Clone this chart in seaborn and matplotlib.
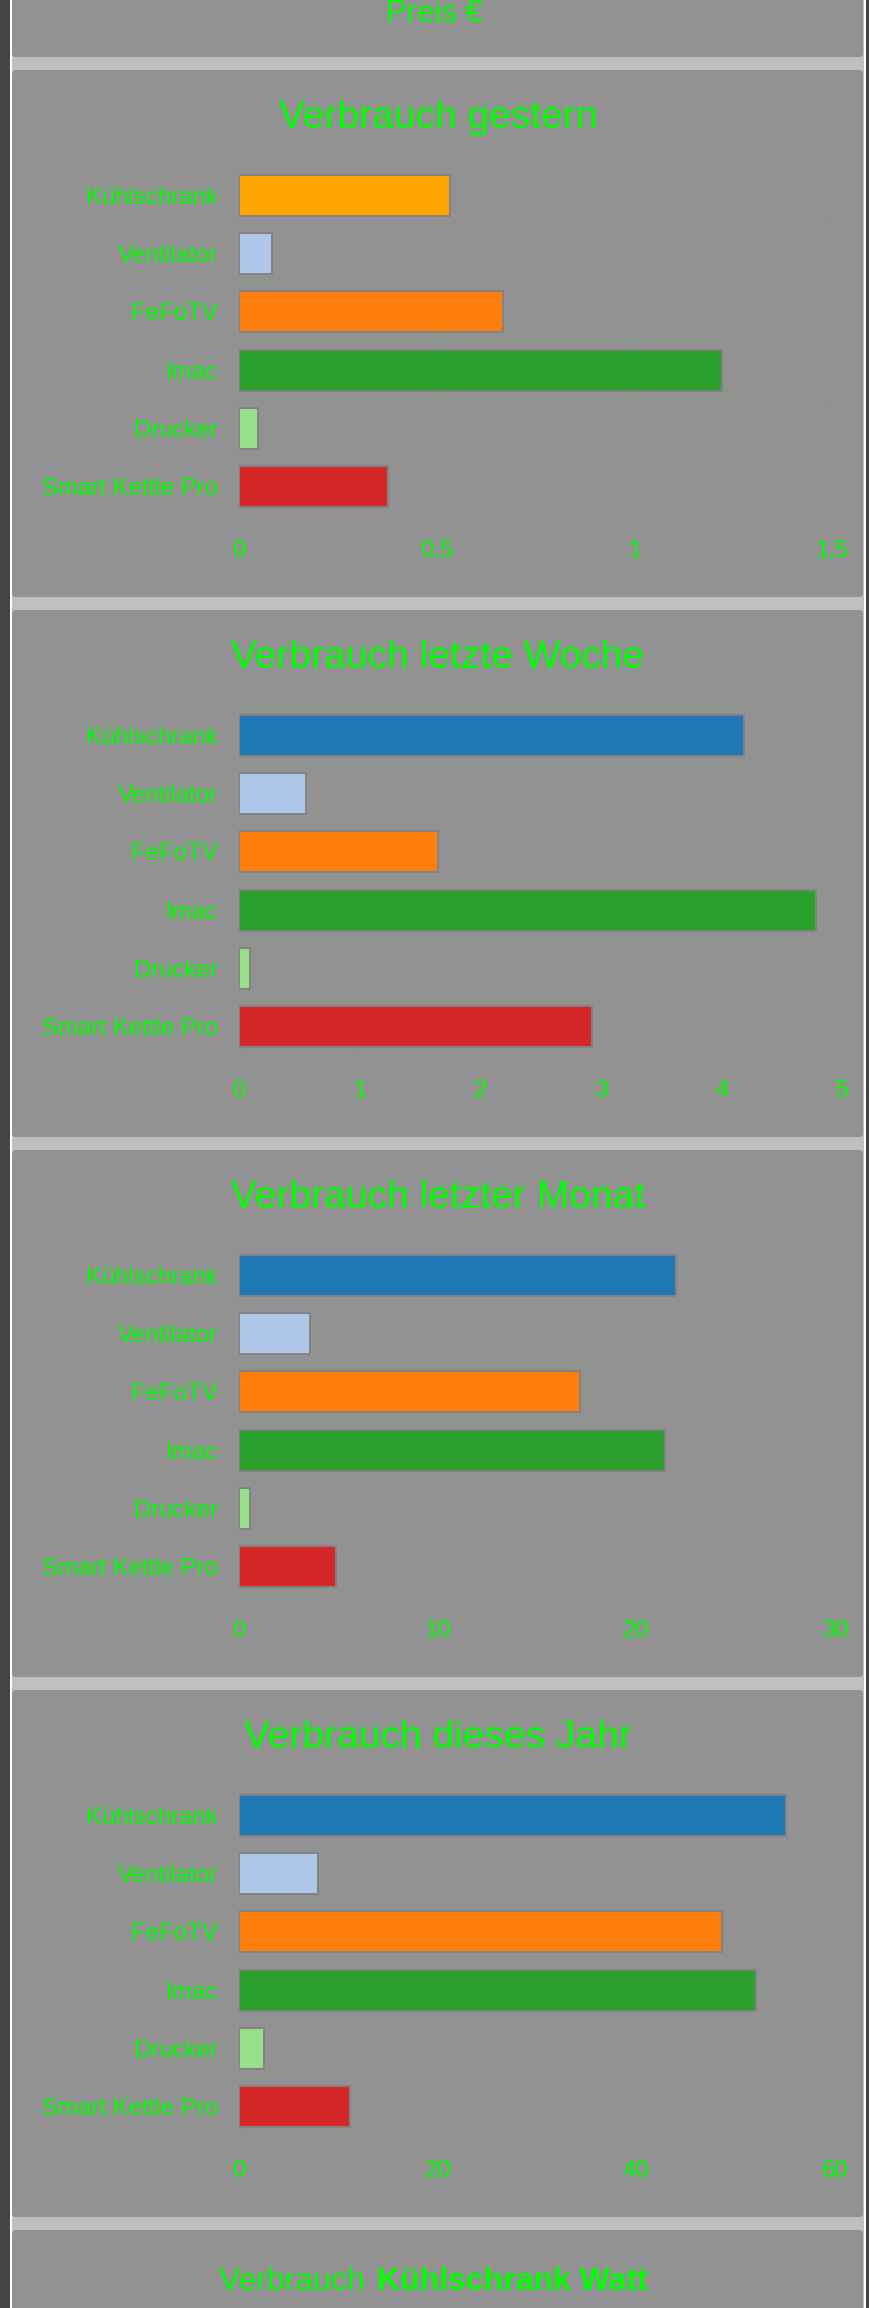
import matplotlib
matplotlib.use("Agg")
import matplotlib.pyplot as plt
from matplotlib.patches import Rectangle, FancyBboxPatch
from matplotlib.transforms import IdentityTransform
import seaborn as sns

W, H = 870, 2308
DPI = 100

# data (kWh)
categories = ["Kühlschrank", "Ventilator", "FeFoTV", "Imac", "Drucker", "Smart Kettle Pro"]
gestern = [0.533, 0.083, 0.669, 1.221, 0.048, 0.376]
woche = [4.18, 0.556, 1.644, 4.775, 0.092, 2.92]
monat = [21.98, 3.58, 17.15, 21.45, 0.56, 4.89]
jahr = [55.08, 7.93, 48.6, 52.07, 2.51, 11.17]

titles = ["Verbrauch gestern", "Verbrauch letzte Woche",
          "Verbrauch letzter Monat", "Verbrauch dieses Jahr"]

gestern_ticks = [0, 0.5, 1, 1.5]
gestern_ticklabels = ["0", "0,5", "1", "1,5"]
woche_ticks = [0, 1, 2, 3, 4, 5]
woche_ticklabels = ["0", "1", "2", "3", "4", "5"]
monat_ticks = [0, 10, 20, 30]
monat_ticklabels = ["0", "10", "20", "30"]
jahr_ticks = [0, 20, 40, 60]
jahr_ticklabels = ["0", "20", "40", "60"]

gestern_colors = ["#ffa500", "#aec7e8", "#ff7f0e", "#2ca02c", "#98df8a", "#d62728"]
default_colors = ["#1f77b4", "#aec7e8", "#ff7f0e", "#2ca02c", "#98df8a", "#d62728"]

GREEN = "#00ff00"
PANEL = "#929292"
GAP = "#bfbfbf"
DARK = "#444444"
GRID = "#879b87"

plt.rcParams["font.family"] = ["Liberation Sans", "DejaVu Sans"]


def px(v):
    # pixels -> points
    return v * 72 / DPI


def rect(fig, x0, y0, x1, y1, color, rounded=False):
    # top-down pixel coords -> display coords
    if rounded:
        p = FancyBboxPatch((x0, H - y1), x1 - x0, y1 - y0,
                           boxstyle="round,pad=0,rounding_size=4",
                           facecolor=color, edgecolor="none",
                           transform=IdentityTransform(), zorder=-5)
    else:
        p = Rectangle((x0, H - y1), x1 - x0, y1 - y0, facecolor=color,
                      edgecolor="none", transform=IdentityTransform(), zorder=-6)
    fig.add_artist(p)


fig = plt.figure(figsize=(W / DPI, H / DPI), dpi=DPI, facecolor=GAP)

# page frame
rect(fig, 0, 0, 10, H, DARK)
rect(fig, 10, 0, 12, H, "white")
rect(fig, 864, 0, 866, H, "white")
rect(fig, 866, 0, W, H, DARK)

# panels
panel_tops = [-470, 70, 610, 1150, 1690, 2230]
for t in panel_tops:
    rect(fig, 12, t, 863, t + 527, PANEL, rounded=True)

# leftover axis title of the chart above
fig.text(434 / W, 1 - 22 / H, "Preis €", color=GREEN, fontsize=px(31),
         ha="center", va="baseline")

series = [gestern, woche, monat, jahr]
ticks = [gestern_ticks, woche_ticks, monat_ticks, jahr_ticks]
ticklabels = [gestern_ticklabels, woche_ticklabels, monat_ticklabels, jahr_ticklabels]
palettes = [gestern_colors, default_colors, default_colors, default_colors]
right_edges = [832, 843, 835, 835]

x0 = 239
for i in range(4):
    T = panel_tops[i + 1]
    xr = right_edges[i]
    top, bottom = T + 96, T + 446
    ax = fig.add_axes([x0 / W, 1 - bottom / H, (xr - x0) / W, (bottom - top) / H])
    ax.set_facecolor("none")

    sns.barplot(x=series[i], y=categories, hue=categories, palette=palettes[i],
                orient="h", width=0.7, saturation=1, edgecolor="#838383",
                linewidth=1.4, legend=False, ax=ax, zorder=2)

    ax.set_xlim(ticks[i][0], ticks[i][-1])
    ax.set_ylim(5.5, -0.5)
    ax.set_xlabel("")
    ax.set_ylabel("")
    for s in ax.spines.values():
        s.set_visible(False)

    span = xr - x0
    edges = [k - 0.5 for k in range(len(categories) + 1)]
    ax.hlines(edges[:-1], (218 - x0) / span, (854 - x0) / span, color=GRID,
              linewidth=px(1.2), transform=ax.get_yaxis_transform(),
              clip_on=False, zorder=0.5)
    ax.hlines(edges[-1:], 0, (854 - x0) / span, color=GRID,
              linewidth=px(1.2), transform=ax.get_yaxis_transform(),
              clip_on=False, zorder=0.5)
    ax.vlines(ticks[i], -(T + 463 - bottom) / 350, 1 + (top - (T + 84)) / 350,
              color=GRID, linewidth=px(1.2), transform=ax.get_xaxis_transform(),
              clip_on=False, zorder=0.5)

    ax.set_xticks(ticks[i])
    ax.set_xticklabels(ticklabels[i])
    ax.set_yticks(range(len(categories)))
    ax.set_yticklabels(categories)
    ax.tick_params(axis="y", length=0, pad=px(21), labelsize=px(24), labelcolor=GREEN)
    ax.tick_params(axis="x", length=0, pad=px(24), labelsize=px(24), labelcolor=GREEN)

    fig.text(438 / W, 1 - (T + 58.5) / H, titles[i], color=GREEN,
             fontsize=px(39), ha="center", va="baseline")

# heading of the next chart, partly cut off
fig.text(219 / W, 1 - 2290 / H, "Verbrauch ", color=GREEN, fontsize=px(32),
         ha="left", va="baseline")
fig.text(377 / W, 1 - 2290 / H, "Kühlschrank Watt", color=GREEN, fontsize=px(32),
         fontweight="bold", ha="left", va="baseline")

fig.savefig("out.png", dpi=DPI, facecolor=GAP)
